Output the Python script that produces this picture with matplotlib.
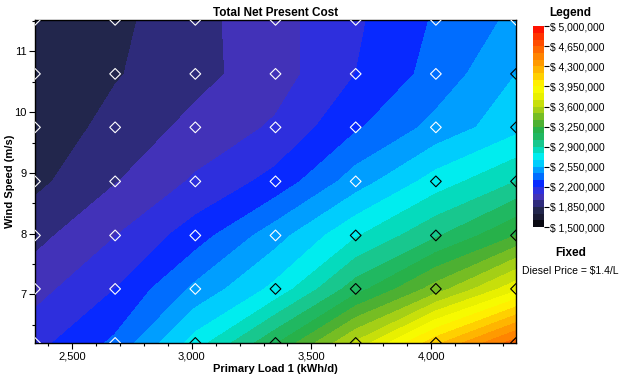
import numpy as np
import matplotlib
matplotlib.use('Agg')
import matplotlib.pyplot as plt
from matplotlib.colors import LinearSegmentedColormap
from matplotlib.ticker import FuncFormatter, MultipleLocator

plt.rcParams['font.family'] = ['Liberation Sans', 'DejaVu Sans']

# sensitivity grid (HOMER style): primary load x wind speed
load = [2345, 2680, 3015, 3350, 3685, 4020, 4355]
wind = [6.20, 7.09, 7.97, 8.86, 9.75, 10.63, 11.52]

# total net present cost, millions $, rows = wind (low -> high), cols = load
npc_m = [
    [2.16, 2.34, 2.72, 3.12, 3.62, 4.15, 4.60],
    [2.04, 2.20, 2.46, 2.70, 3.08, 3.42, 3.80],
    [1.93, 2.08, 2.26, 2.50, 2.77, 3.00, 3.25],
    [1.82, 1.96, 2.10, 2.24, 2.49, 2.72, 2.90],
    [1.77, 1.89, 2.00, 2.10, 2.30, 2.47, 2.63],
    [1.76, 1.84, 1.93, 2.03, 2.20, 2.36, 2.55],
    [1.76, 1.82, 1.93, 2.04, 2.18, 2.33, 2.46],
]

cbar_ticks = [1500000, 1850000, 2200000, 2550000, 2900000, 3250000,
              3600000, 3950000, 4300000, 4650000, 5000000]

# colour scale as used by the legend bar (value in millions, colour)
cmap_stops = [
    (1.50, '#000000'), (1.62, '#151528'), (1.72, '#1e2040'), (1.79, '#22264c'),
    (1.91, '#2f2c80'), (2.02, '#4232b8'), (2.10, '#3a36d0'), (2.17, '#2026ec'),
    (2.24, '#0a20ff'), (2.32, '#0050ff'), (2.45, '#0090ff'), (2.58, '#00c0ff'),
    (2.70, '#00f0f8'), (2.82, '#00e0c8'), (2.95, '#18c890'), (3.08, '#20b860'),
    (3.20, '#28b048'), (3.32, '#50b030'), (3.45, '#80c020'), (3.60, '#b8d810'),
    (3.78, '#e8f000'), (3.95, '#ffff00'), (4.10, '#ffd800'), (4.30, '#ffa800'),
    (4.50, '#ff8000'), (4.70, '#ff5000'), (4.85, '#ff3000'), (5.00, '#ff0000'),
]
cmap = LinearSegmentedColormap.from_list(
    'homer', [((v - 1.5) / 3.5, c) for v, c in cmap_stops])

X, Y = np.meshgrid(load, wind)
Z = np.array(npc_m) * 1e6

fig = plt.figure(figsize=(6.24, 3.74), dpi=100)
ax = fig.add_axes([0.056, 0.083, 0.771, 0.864])

levels = np.linspace(1.5e6, 5.0e6, 31)
cs = ax.contourf(X, Y, Z, levels=levels, cmap=cmap)

# sensitivity points, outline colour depends on background
edge = np.where(Z >= 2.52e6, 'black', 'white')
ax.scatter(X.ravel(), Y.ravel(), marker='D', s=30, facecolors='none',
           edgecolors=edge.ravel(), linewidths=0.8, zorder=3)

ax.set_xlim(load[0], load[-1])
ax.set_ylim(wind[0], wind[-1])
ax.xaxis.set_major_locator(MultipleLocator(500))
ax.xaxis.set_minor_locator(MultipleLocator(100))
ax.yaxis.set_major_locator(MultipleLocator(1))
ax.yaxis.set_minor_locator(MultipleLocator(0.5))
ax.xaxis.set_major_formatter(FuncFormatter(lambda v, p: f'{v:,.0f}'))
ax.tick_params(which='major', length=4, width=0.8, labelsize=8, pad=2)
ax.tick_params(which='minor', length=2, width=0.8)
for s in ax.spines.values():
    s.set_linewidth(1.0)

ax.set_title('Total Net Present Cost', fontsize=8.5, fontweight='bold', pad=3)
ax.set_xlabel('Primary Load 1 (kWh/d)', fontsize=8, fontweight='bold', labelpad=2)
ax.set_ylabel('Wind Speed (m/s)', fontsize=8, fontweight='bold')
ax.yaxis.set_label_coords(-0.042, 0.5)

# legend bar
cax = fig.add_axes([0.854, 0.393, 0.018, 0.537])
cb = fig.colorbar(cs, cax=cax, ticks=cbar_ticks)
cb.outline.set_visible(False)
cb.ax.yaxis.set_major_formatter(FuncFormatter(lambda v, p: f'$ {v:,.0f}'))
cb.ax.tick_params(length=3.5, width=0.8, labelsize=7.5, pad=1)
cb.ax.minorticks_off()

fig.text(0.914, 0.966, 'Legend', ha='center', va='center', fontsize=8.5, fontweight='bold')
fig.text(0.914, 0.323, 'Fixed', ha='center', va='center', fontsize=8.5, fontweight='bold')
fig.text(0.914, 0.275, 'Diesel Price = $1.4/L', ha='center', va='center', fontsize=7.5)

fig.savefig('out.png', dpi=100)
